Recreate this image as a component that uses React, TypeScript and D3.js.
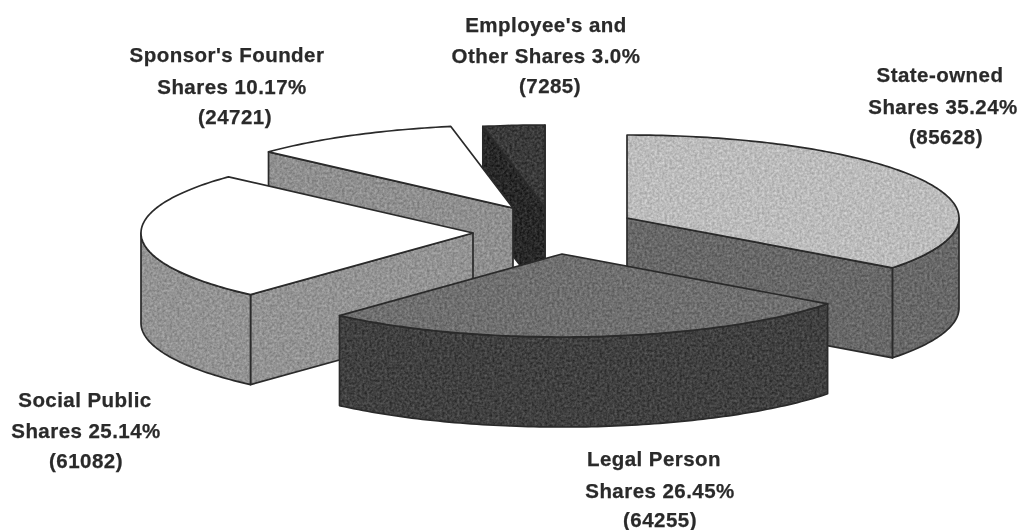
import React from "react";
import * as d3 from "d3";

// --- data ---
const categories = ["State-owned", "Legal Person", "Social Public", "Sponsor's Founder", "Employee's and Other"];
const shareCounts = [85628, 64255, 61082, 24721, 7285];
const sharePercents = ["35.24", "26.45", "25.14", "10.17", "3.0"];

// --- style / layout ---
const W = 1021;
const H = 530;
const RX = 332;
const RY = 83;
const DEPTH = 90;
const apexes: [number, number][] = [[627, 218], [562, 254], [473, 233], [513, 208], [545, 208]];
const topFills = ["#bcbcbc", "#6f6f6f", "#ffffff", "#ffffff", "#3a3a3a"];
const wallFills = ["#686868", "#404040", "#939393", "#8f8f8f", "#282828"];
const drawOrder = [4, 3, 2, 0, 1];
const INK = "#2a2a2a";

const labelLines: string[][] = [
  [categories[0], `Shares ${sharePercents[0]}%`, `(${shareCounts[0]})`],
  [categories[1], `Shares ${sharePercents[1]}%`, `(${shareCounts[1]})`],
  [categories[2], `Shares ${sharePercents[2]}%`, `(${shareCounts[2]})`],
  ["Sponsor's Founder", `Shares ${sharePercents[3]}%`, `(${shareCounts[3]})`],
  ["Employee's and", `Other Shares ${sharePercents[4]}%`, `(${shareCounts[4]})`],
];
// x-centre and baseline of each label line
const labelPlace: [number, number][][] = [
  [[940, 82], [943, 114], [946, 144]],
  [[654, 466], [660, 498], [660, 527]],
  [[85, 407], [86, 438], [86, 468]],
  [[227, 62], [232, 94], [235, 124]],
  [[546, 32], [546, 63], [550, 93]],
];

const xScale = d3.scaleLinear().domain([-1, 1]).range([-RX, RX]);
const yScale = d3.scaleLinear().domain([-1, 1]).range([-RY, RY]);

const arcs = d3.pie<number>().sort(null).value((d) => d)(shareCounts);
const ARC_STEP = Math.PI / 180;

function rim(i: number, a0: number, a1: number, dy = 0): [number, number][] {
  const [cx, cy] = apexes[i];
  const angles = d3.range(a0, a1, ARC_STEP).concat([a1]);
  return angles.map((a) => [cx + xScale(Math.sin(a)), cy + yScale(-Math.cos(a)) + dy]);
}

const line = d3.line();

function topPath(i: number) {
  const { startAngle, endAngle } = arcs[i];
  return line([apexes[i], ...rim(i, startAngle, endAngle)]) + "Z";
}

function outerWall(i: number) {
  const a0 = Math.max(arcs[i].startAngle, Math.PI / 2);
  const a1 = Math.min(arcs[i].endAngle, (3 * Math.PI) / 2);
  if (a1 <= a0) return null;
  return line([...rim(i, a0, a1), ...rim(i, a0, a1, DEPTH).reverse()]) + "Z";
}

function radialWall(i: number, a: number) {
  const [cx, cy] = apexes[i];
  const [p] = rim(i, a, a);
  return line([[cx, cy], p, [p[0], p[1] + DEPTH], [cx, cy + DEPTH]]) + "Z";
}

function sideWalls(i: number) {
  const { startAngle, endAngle } = arcs[i];
  const out: string[] = [];
  if (Math.sin(endAngle) > 0) out.push(radialWall(i, endAngle));
  if (Math.sin(startAngle) < 0) out.push(radialWall(i, startAngle));
  return out;
}

export default function App() {
  return (
    <svg
      width={W}
      height={H}
      viewBox={`0 0 ${W} ${H}`}
      style={{ position: "absolute", left: 0, top: 0, background: "#fff" }}
    >
      <defs>
        <filter id="grain" x="0" y="0" width="100%" height="100%" colorInterpolationFilters="sRGB">
          <feTurbulence type="fractalNoise" baseFrequency="0.4" numOctaves="2" seed="4" result="n" />
          <feColorMatrix
            in="n"
            type="matrix"
            values="1 0 0 0 0  1 0 0 0 0  1 0 0 0 0  0 0 0 0 1"
            result="g"
          />
          <feGaussianBlur in="g" stdDeviation="0.5" result="gb" />
          <feComposite in="SourceGraphic" in2="gb" operator="arithmetic" k1="0" k2="1" k3="0.3" k4="-0.15" result="c" />
          <feComposite in="c" in2="SourceAlpha" operator="in" />
        </filter>
        <filter id="soft">
          <feGaussianBlur stdDeviation="0.3" />
        </filter>
      </defs>
      {drawOrder.map((i) => {
        const grain = i === 2 || i === 3 ? undefined : "url(#grain)";
        const wall = outerWall(i);
        return (
          <g key={categories[i]} stroke={INK} strokeWidth={1.7} strokeLinejoin="round">
            {sideWalls(i).map((d, k) => (
              <g key={k}>
                <path d={d} fill={wallFills[i]} stroke="none" filter="url(#grain)" />
                <path d={d} fill="none" />
              </g>
            ))}
            {wall && (
              <g>
                <path d={wall} fill={wallFills[i]} stroke="none" filter="url(#grain)" />
                <path d={wall} fill="none" />
              </g>
            )}
            <path d={topPath(i)} fill={topFills[i]} stroke="none" filter={grain} />
            <path d={topPath(i)} fill="none" />
          </g>
        );
      })}
      <g
        fontFamily="'Liberation Sans', Arial, sans-serif"
        fontWeight="bold"
        fontSize={20.5}
        letterSpacing={0.45}
        fill="#2a2a2a"
        stroke="#2a2a2a"
        strokeWidth={0.25}
        textAnchor="middle"
        filter="url(#soft)"
      >
        {labelLines.map((lines, i) =>
          lines.map((t, j) => (
            <text key={`${i}-${j}`} x={labelPlace[i][j][0]} y={labelPlace[i][j][1]}>
              {t}
            </text>
          ))
        )}
      </g>
    </svg>
  );
}
